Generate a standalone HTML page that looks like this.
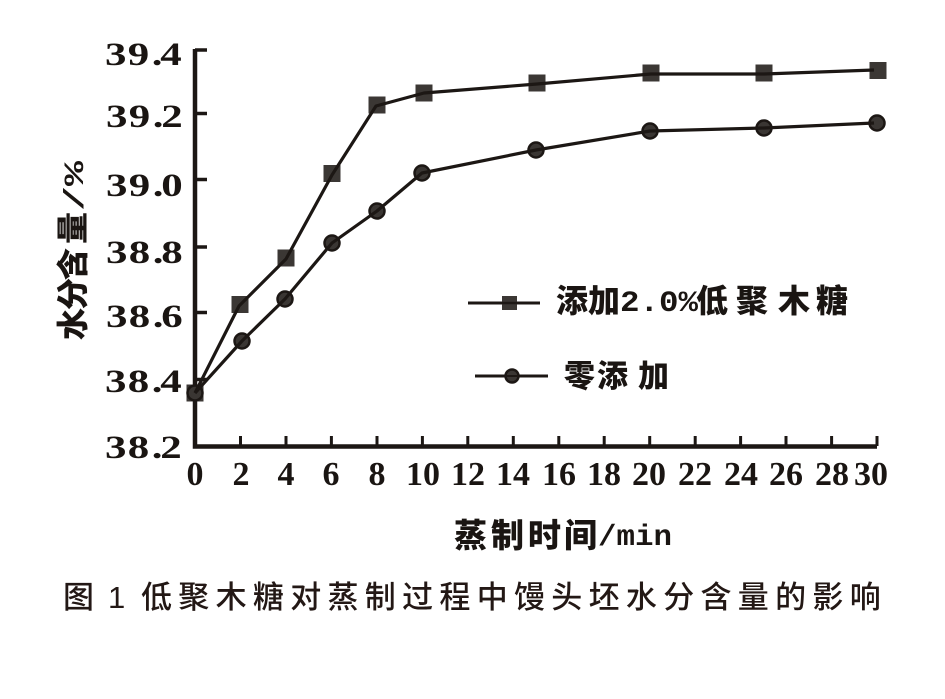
<!DOCTYPE html>
<html>
<head>
<meta charset="utf-8">
<style>
html,body{margin:0;padding:0;background:#fff;}
svg{display:block;}
.cjk{font-family:"Liberation Sans","Noto Sans CJK SC",sans-serif;font-weight:900;fill:#1a1512;}
.num{font-family:"Liberation Serif","Noto Serif CJK SC",serif;font-weight:700;fill:#1a1512;}
.mono{font-family:"Liberation Mono",monospace;font-weight:700;fill:#1a1512;}
.cap{font-family:"Liberation Sans","Noto Sans CJK SC",sans-serif;font-weight:500;fill:#231815;}
</style>
</head>
<body>
<svg width="945" height="699" viewBox="0 0 945 699" xmlns="http://www.w3.org/2000/svg">
<rect x="0" y="0" width="945" height="699" fill="#fff"/>

<!-- axes -->
<path d="M195,49 V446.5 H877" stroke="#1c1714" stroke-width="4.5" fill="none"/>
<g stroke="#1c1714" stroke-width="3.5">
  <line x1="195" y1="50" x2="207" y2="50"/>
  <line x1="195" y1="113.5" x2="207" y2="113.5"/>
  <line x1="195" y1="179.5" x2="207" y2="179.5"/>
  <line x1="195" y1="247" x2="207" y2="247"/>
  <line x1="195" y1="312.5" x2="207" y2="312.5"/>
  <line x1="195" y1="379.5" x2="207" y2="379.5"/>
</g>
<g stroke="#1c1714" stroke-width="3">
  <line x1="240.5" y1="446" x2="240.5" y2="436"/>
  <line x1="286" y1="446" x2="286" y2="436"/>
  <line x1="331.4" y1="446" x2="331.4" y2="436"/>
  <line x1="377" y1="446" x2="377" y2="436"/>
  <line x1="422.4" y1="446" x2="422.4" y2="436"/>
  <line x1="467.8" y1="446" x2="467.8" y2="436"/>
  <line x1="513.3" y1="446" x2="513.3" y2="436"/>
  <line x1="558.8" y1="446" x2="558.8" y2="436"/>
  <line x1="604.2" y1="446" x2="604.2" y2="436"/>
  <line x1="649.7" y1="446" x2="649.7" y2="436"/>
  <line x1="695.2" y1="446" x2="695.2" y2="436"/>
  <line x1="740.6" y1="446" x2="740.6" y2="436"/>
  <line x1="786" y1="446" x2="786" y2="436"/>
  <line x1="831.6" y1="446" x2="831.6" y2="436"/>
  <line x1="877" y1="446" x2="877" y2="436"/>
</g>

<!-- y tick labels -->
<g class="num" font-size="33">
  <text transform="translate(105,65) scale(1.3,1)" x="0 17.5 36 42.5">39.4</text>
  <text transform="translate(106,127) scale(1.3,1)" x="0 17.5 36 42.5">39.2</text>
  <text transform="translate(106,196) scale(1.3,1)" x="0 17.5 36 42.5">39.0</text>
  <text transform="translate(106,263) scale(1.3,1)" x="0 17.5 36 42.5">38.8</text>
  <text transform="translate(106,327) scale(1.3,1)" x="0 17.5 36 42.5">38.6</text>
  <text transform="translate(105,392) scale(1.3,1)" x="0 17.5 36 42.5">38.4</text>
  <text transform="translate(105,458) scale(1.3,1)" x="0 17.5 36 42.5">38.2</text>
</g>

<!-- x tick labels -->
<g class="num" font-size="34" text-anchor="middle">
  <text x="195" y="485">0</text>
  <text x="241" y="485">2</text>
  <text x="286" y="485">4</text>
  <text x="331" y="485">6</text>
  <text x="377" y="485">8</text>
  <text x="423" y="485">10</text>
  <text x="468" y="485">12</text>
  <text x="513" y="485">14</text>
  <text x="559" y="485">16</text>
  <text x="604" y="485">18</text>
  <text x="649" y="485">20</text>
  <text x="695" y="485">22</text>
  <text x="741" y="485">24</text>
  <text x="786" y="485">26</text>
  <text x="832" y="485">28</text>
  <text x="871" y="485">30</text>
</g>

<!-- axis titles -->
<text class="cjk" font-size="33" y="547" x="454 491 528 564">蒸制时间</text>
<text class="mono" font-size="30" y="545" x="598" textLength="74" lengthAdjust="spacingAndGlyphs">/min</text>

<g transform="translate(84,340) rotate(-90)">
  <text class="cjk" font-size="32" x="0 30 60 96" y="0">水分含量</text>
  <text class="mono" font-size="28" x="129" y="-1" textLength="50" lengthAdjust="spacingAndGlyphs">/%</text>
</g>

<!-- markers: squares -->
<g fill="#3b3734">
  <rect x="186.5" y="384.5" width="17" height="17"/>
  <rect x="231.5" y="296" width="17" height="17"/>
  <rect x="277.5" y="249.5" width="17" height="17"/>
  <rect x="323.5" y="165" width="17" height="17"/>
  <rect x="368.5" y="96.5" width="17" height="17"/>
  <rect x="415.5" y="84.5" width="17" height="17"/>
  <rect x="528.5" y="74.5" width="17" height="17"/>
  <rect x="642.5" y="64.5" width="17" height="17"/>
  <rect x="755.5" y="64.5" width="17" height="17"/>
  <rect x="869.5" y="62" width="17" height="17"/>
</g>
<!-- markers: circles -->
<g fill="#3a3633" stroke="#1c1714" stroke-width="2.5">
  <circle cx="195" cy="393" r="7.5"/>
  <circle cx="242" cy="341" r="7.5"/>
  <circle cx="285" cy="299" r="7.5"/>
  <circle cx="332" cy="243" r="7.5"/>
  <circle cx="377" cy="211" r="7.5"/>
  <circle cx="422" cy="173" r="7.5"/>
  <circle cx="536" cy="150" r="7.5"/>
  <circle cx="650" cy="131" r="7.5"/>
  <circle cx="764" cy="128" r="7.5"/>
  <circle cx="877" cy="123" r="7.5"/>
</g>

<!-- series lines -->
<polyline fill="none" stroke="#1c1714" stroke-width="3.2" stroke-linejoin="round"
  points="195,393 239,306 286,259 332,175 376,106 424,93 537,84 651,74 764,74 874,70"/>
<polyline fill="none" stroke="#1c1714" stroke-width="3.2" stroke-linejoin="round"
  points="195,393 242,341 285,299 332,243 377,211 422,173 536,150 650,131 764,128 874,123"/>

<!-- legend -->
<line x1="468" y1="303" x2="540" y2="303" stroke="#1c1714" stroke-width="3"/>
<rect x="502" y="296" width="15" height="14" fill="#3b3734"/>
<line x1="502" y1="303" x2="517" y2="303" stroke="#1c1714" stroke-width="2.5"/>
<text class="cjk" font-size="32" y="312" x="556 588">添加</text>
<text class="mono" font-size="30" y="311" x="620" textLength="78" lengthAdjust="spacingAndGlyphs">2.0%</text>
<text class="cjk" font-size="32" y="312" x="696 736 778 816">低聚木糖</text>

<line x1="475" y1="376" x2="548" y2="376" stroke="#1c1714" stroke-width="3"/>
<circle cx="512" cy="376" r="6.5" fill="#3a3633" stroke="#1c1714" stroke-width="2.5"/>
<line x1="505" y1="376" x2="519" y2="376" stroke="#1c1714" stroke-width="2"/>
<text class="cjk" font-size="31" y="387" x="564 597 638">零添加</text>

<!-- caption -->
<text class="cap" font-size="31" y="608" x="63">图</text>
<text class="cap" font-size="31" y="608" x="108">1</text>
<text class="cap" font-size="31" y="608"
  x="141 178.3 215.6 252.9 290.2 327.5 364.8 402.1 439.4 476.7 514 551.3 588.6 625.9 663.2 700.5 737.8 775.1 812.4 849.7">低聚木糖对蒸制过程中馒头坯水分含量的影响</text>
</svg>
</body>
</html>
